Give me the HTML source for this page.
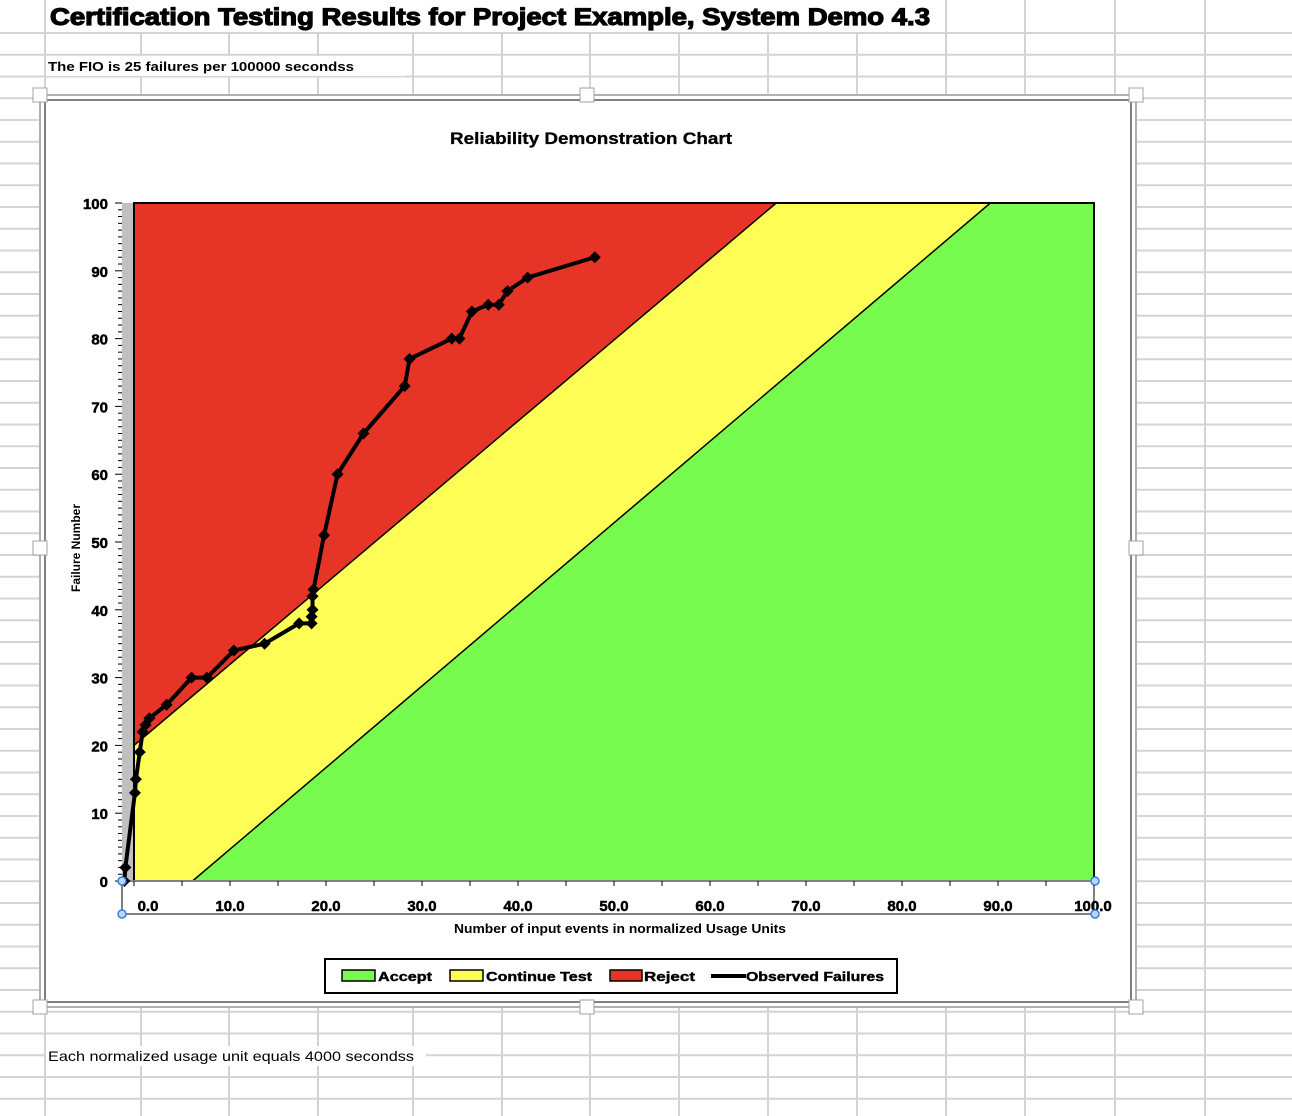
<!DOCTYPE html>
<html><head><meta charset="utf-8"><style>
html,body{margin:0;padding:0;background:#fff;}
svg{display:block;font-family:"Liberation Sans",Arial,sans-serif;}
.hb{stroke:#000;stroke-width:0.6;}
</style></head><body>
<svg id="s" width="1292" height="1116" viewBox="0 0 1292 1116" xmlns="http://www.w3.org/2000/svg">
<g id="grid"></g>
<rect x="46" y="0" width="888" height="32" fill="#fff"/>
<text x="50" y="25" font-size="24" font-weight="bold" class="hb" style="stroke-width:1.2" textLength="880" lengthAdjust="spacingAndGlyphs">Certification Testing Results for Project Example, System Demo 4.3</text>
<rect x="46" y="56" width="360" height="20" fill="#fff"/>
<text x="48" y="71" font-size="13" font-weight="bold" textLength="306" lengthAdjust="spacingAndGlyphs">The FIO is 25 failures per 100000 secondss</text>
<rect x="46" y="1046" width="380" height="20" fill="#fff"/>
<text x="48" y="1061" font-size="14" textLength="366" lengthAdjust="spacingAndGlyphs">Each normalized usage unit equals 4000 secondss</text>

<g>
<rect x="40" y="95" width="1096" height="912" fill="#fff" stroke="#b0b0b0" stroke-width="2"/>
<rect x="45" y="100" width="1086" height="902" fill="#fff" stroke="#000" stroke-width="1"/>
<text x="591" y="144" font-size="17" font-weight="bold" text-anchor="middle" class="hb" style="stroke-width:0.3" textLength="282" lengthAdjust="spacingAndGlyphs">Reliability Demonstration Chart</text>
<g id="plot"></g>
<text transform="translate(80,548) rotate(-90)" font-size="12" font-weight="bold" text-anchor="middle">Failure Number</text>
<text x="620" y="933" font-size="13" font-weight="bold" text-anchor="middle" textLength="332" lengthAdjust="spacingAndGlyphs">Number of input events in normalized Usage Units</text>
<g>
<rect x="325" y="959" width="572" height="34" fill="#fff" stroke="#000" stroke-width="2"/>
<g><rect x="342" y="970" width="33" height="11" fill="#77fb4f" stroke="#000" stroke-width="1.5"/><text x="378" y="981" font-size="13" font-weight="bold" class="hb" style="stroke-width:0.4" textLength="54" lengthAdjust="spacingAndGlyphs">Accept</text></g>
<g><rect x="450" y="970" width="33" height="11" fill="#fefd55" stroke="#000" stroke-width="1.5"/><text x="486" y="981" font-size="13" font-weight="bold" class="hb" style="stroke-width:0.4" textLength="106" lengthAdjust="spacingAndGlyphs">Continue Test</text></g>
<g><rect x="610" y="970" width="32" height="11" fill="#e63426" stroke="#000" stroke-width="1.5"/><text x="644" y="981" font-size="13" font-weight="bold" class="hb" style="stroke-width:0.4" textLength="51" lengthAdjust="spacingAndGlyphs">Reject</text></g>
<g><line x1="711" y1="976" x2="746" y2="976" stroke="#000" stroke-width="4"/><text x="746" y="981" font-size="13" font-weight="bold" class="hb" style="stroke-width:0.4" textLength="138" lengthAdjust="spacingAndGlyphs">Observed Failures</text></g>
</g>
</g>
<g id="handles"></g>
</svg>
<script>
const yTicks=[0,10,20,30,40,50,60,70,80,90,100];
const xTicks=[0,10,20,30,40,50,60,70,80,90,100];
const xTickLabels=["0.0","10.0","20.0","30.0","40.0","50.0","60.0","70.0","80.0","90.0","100.0"];
const rejectLineX=[0,66.9];
const rejectLineY=[20,100];
const acceptLineX=[6.1,89.2];
const acceptLineY=[0,100];
const obsX=[-1.0,-0.9,0.1,0.2,0.6,0.9,1.2,1.6,3.4,6.0,7.6,10.4,13.6,17.2,18.5,18.5,18.6,18.6,18.7,19.8,21.2,23.9,28.2,28.7,33.1,33.9,35.2,36.9,38.0,38.9,41.0,48.0];
const obsY=[0,2,13,15,19,22,23,24,26,30,30,34,35,38,38,39,40,42,43,51,60,66,73,77,80,80,84,85,85,87,89,92];

const NS="http://www.w3.org/2000/svg";
function mk(parent,tag,attrs){const e=document.createElementNS(NS,tag);for(const k in attrs)e.setAttribute(k,attrs[k]);parent.appendChild(e);return e;}
const X=v=>134+v*9.6;
const Y=v=>881-v*6.78;

const grid=document.getElementById('grid');
const cols=[45,141,229,318,413,502,590,679,768,857,946,1025,1115,1205];
cols.forEach(c=>mk(grid,'line',{x1:c,y1:0,x2:c,y2:1116,stroke:'#d4d4d4','stroke-width':2}));
for(let y=33;y<1116;y+=21.75){mk(grid,'line',{x1:0,y1:y,x2:1292,y2:y,stroke:'#d4d4d4','stroke-width':2});}

const plot=document.getElementById('plot');
let r=mk(plot,'rect',{x:122,y:Y(100),width:X(0)-122,height:Y(0)-Y(100),fill:'#c0c0c0'});


r=mk(plot,'rect',{x:X(0),y:Y(100),width:X(100)-X(0),height:Y(0)-Y(100),fill:'#e63426'});


let p=mk(plot,'polygon',{points:[[X(0),Y(0)],[X(0),Y(rejectLineY[0])],[X(rejectLineX[1]),Y(rejectLineY[1])],[X(100),Y(100)],[X(100),Y(0)]].join(' '),fill:'#fefd55',stroke:'#000','stroke-width':1.5});


p=mk(plot,'polygon',{points:[[X(acceptLineX[0]),Y(acceptLineY[0])],[X(acceptLineX[1]),Y(acceptLineY[1])],[X(100),Y(100)],[X(100),Y(0)]].join(' '),fill:'#77fb4f',stroke:'#000','stroke-width':1.5});


mk(plot,'rect',{x:X(0),y:Y(100),width:X(100)-X(0),height:Y(0)-Y(100),fill:'none',stroke:'#000','stroke-width':2});
mk(plot,'line',{x1:122,y1:Y(0),x2:X(100),y2:Y(0),stroke:'#808080','stroke-width':2});
mk(plot,'line',{x1:122,y1:914,x2:X(100),y2:914,stroke:'#808080','stroke-width':2});
mk(plot,'line',{x1:122,y1:881,x2:122,y2:914,stroke:'#808080','stroke-width':2});
mk(plot,'line',{x1:X(100),y1:881,x2:X(100),y2:914,stroke:'#808080','stroke-width':2});
for(let v=0;v<=100;v++){const len=v%10===0?7:4;mk(plot,'line',{x1:122-len,y1:Y(v),x2:122,y2:Y(v),stroke:'#000','stroke-width':1});}
yTicks.forEach(v=>{const t=mk(plot,'text',{x:108,y:Y(v)+6,'font-size':15,'font-weight':'bold','text-anchor':'end',class:'hb',style:'stroke-width:0.5'});t.textContent=v;

});
for(let v=0;v<=100;v+=5){mk(plot,'line',{x1:X(v),y1:881,x2:X(v),y2:886,stroke:'#000','stroke-width':1});}
xTicks.forEach((v,i)=>{const t=mk(plot,'text',{x:X(v)+ (i===0?14:i===10?-1:0),y:911,'font-size':15,'font-weight':'bold','text-anchor':'middle',class:'hb',style:'stroke-width:0.5'});t.textContent=xTickLabels[i];

});
const pts=obsX.map((x,i)=>X(x)+','+Y(obsY[i])).join(' ');
const pl=mk(plot,'polyline',{points:pts,fill:'none',stroke:'#000','stroke-width':4,'stroke-linejoin':'round'});


obsX.forEach((x,i)=>{const cx=X(x),cy=Y(obsY[i]);
const d=mk(plot,'polygon',{points:`${cx},${cy-6} ${cx+6},${cy} ${cx},${cy+6} ${cx-6},${cy}`,fill:'#000'});

});
const h=document.getElementById('handles');
[[40,95],[587,95],[1136,95],[40,548],[1136,548],[40,1007],[587,1007],[1136,1007]].forEach(([x,y])=>{
const e=mk(h,'rect',{x:x-7,y:y-7,width:14,height:14,fill:'#fff',stroke:'#a0a0a0','stroke-width':1});

});
[[122,881],[122,914],[1095,881],[1095,914]].forEach(([x,y])=>{
const e=mk(h,'circle',{cx:x,cy:y,r:4,fill:'#bcd6f5',stroke:'#3a7ee0','stroke-width':1.5});

});
</script>
</body></html>
